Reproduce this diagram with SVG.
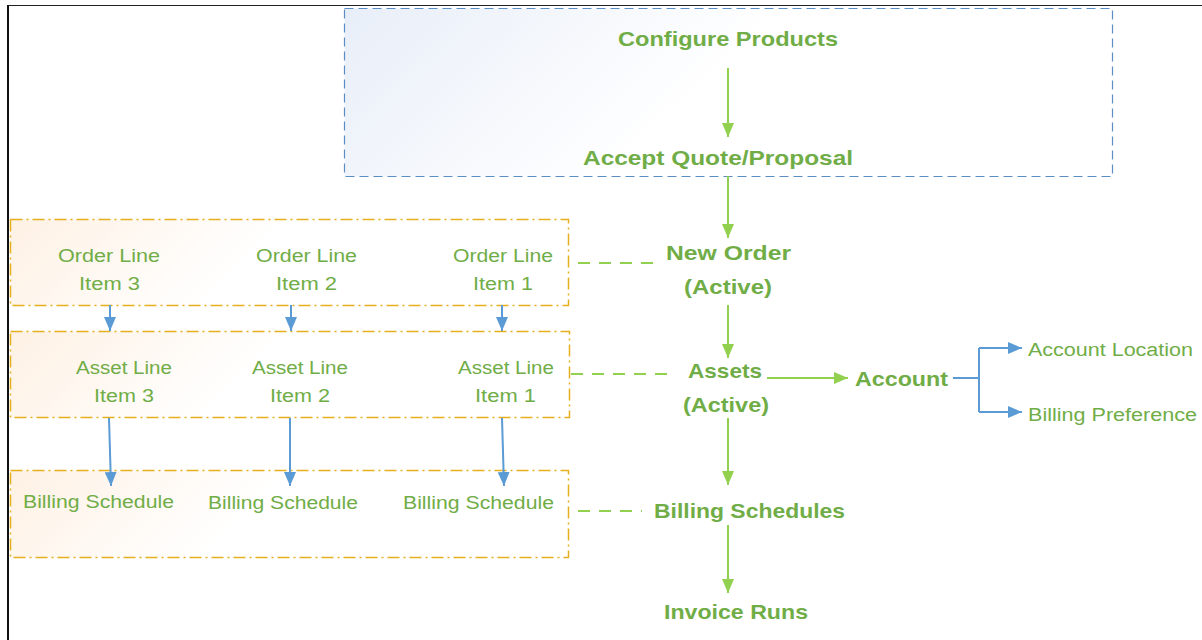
<svg xmlns="http://www.w3.org/2000/svg" width="1202" height="640" viewBox="0 0 1202 640">
<style>
.b{font-family:"Liberation Sans",Arial,sans-serif;font-weight:bold;font-size:21px;fill:#70AD47}
.n{font-family:"Liberation Sans",Arial,sans-serif;font-size:18px;fill:#70AD47}
.g{stroke:#92D050;stroke-width:2;fill:none}
.gd{stroke:#92D050;stroke-width:2;fill:none;stroke-dasharray:12 9}
.bl{stroke:#5B9BD5;stroke-width:2;fill:none}
.ob{stroke:#E6AF1E;stroke-width:1.5;stroke-dasharray:12 4 2 4}
</style>
<defs>
<linearGradient id="gb" gradientUnits="userSpaceOnUse" x1="344" y1="8" x2="560" y2="230">
<stop offset="0" stop-color="#E8EEF8"/><stop offset="1" stop-color="#FFFFFF"/>
</linearGradient>
<linearGradient id="go1" gradientUnits="userSpaceOnUse" x1="10" y1="219" x2="150" y2="360">
<stop offset="0" stop-color="#FEF1E4"/><stop offset="1" stop-color="#FFFFFF"/>
</linearGradient>
<linearGradient id="go2" gradientUnits="userSpaceOnUse" x1="10" y1="331" x2="150" y2="472">
<stop offset="0" stop-color="#FEF1E4"/><stop offset="1" stop-color="#FFFFFF"/>
</linearGradient>
<linearGradient id="go3" gradientUnits="userSpaceOnUse" x1="10" y1="470" x2="150" y2="611">
<stop offset="0" stop-color="#FEF1E4"/><stop offset="1" stop-color="#FFFFFF"/>
</linearGradient>
<marker id="ag" viewBox="0 0 14 12" refX="14" refY="6" markerWidth="14" markerHeight="12" markerUnits="userSpaceOnUse" orient="auto"><path d="M0,0L14,6L0,12z" fill="#92D050"/></marker>
<marker id="ab" viewBox="0 0 14 12" refX="14" refY="6" markerWidth="14" markerHeight="12" markerUnits="userSpaceOnUse" orient="auto"><path d="M0,0L14,6L0,12z" fill="#5B9BD5"/></marker>
</defs>
<rect width="1202" height="640" fill="#FFFFFF"/>
<g id="frame">
<line x1="8" y1="5.5" x2="1202" y2="5.5" stroke="#222" stroke-width="1.2"/>
<line x1="8" y1="5" x2="8" y2="640" stroke="#111" stroke-width="2"/>
</g>
<g id="quote-group">
<rect x="344.5" y="8.5" width="768" height="168" fill="url(#gb)" stroke="#5B8EC6" stroke-width="1.2" stroke-dasharray="9 5"/>
</g>
<g id="order-lines">
<rect x="10.5" y="219.5" width="558" height="86" fill="url(#go1)" class="ob"/>
<text class="n" x="58" y="262" textLength="102" lengthAdjust="spacingAndGlyphs">Order Line</text>
<text class="n" x="79" y="290" textLength="61" lengthAdjust="spacingAndGlyphs">Item 3</text>
<text class="n" x="256" y="262" textLength="101" lengthAdjust="spacingAndGlyphs">Order Line</text>
<text class="n" x="276" y="290" textLength="61" lengthAdjust="spacingAndGlyphs">Item 2</text>
<text class="n" x="453" y="262" textLength="100" lengthAdjust="spacingAndGlyphs">Order Line</text>
<text class="n" x="473" y="290" textLength="60" lengthAdjust="spacingAndGlyphs">Item 1</text>
</g>
<g id="asset-lines">
<rect x="10.5" y="331.5" width="559" height="86" fill="url(#go2)" class="ob"/>
<text class="n" x="76" y="374" textLength="96" lengthAdjust="spacingAndGlyphs">Asset Line</text>
<text class="n" x="94" y="402" textLength="60" lengthAdjust="spacingAndGlyphs">Item 3</text>
<text class="n" x="252" y="374" textLength="96" lengthAdjust="spacingAndGlyphs">Asset Line</text>
<text class="n" x="270" y="402" textLength="60" lengthAdjust="spacingAndGlyphs">Item 2</text>
<text class="n" x="458" y="374" textLength="96" lengthAdjust="spacingAndGlyphs">Asset Line</text>
<text class="n" x="475" y="402" textLength="61" lengthAdjust="spacingAndGlyphs">Item 1</text>
</g>
<g id="billing-lines">
<rect x="10.5" y="470.5" width="558" height="87" fill="url(#go3)" class="ob"/>
<text class="n" x="23" y="508" textLength="151" lengthAdjust="spacingAndGlyphs">Billing Schedule</text>
<text class="n" x="208" y="509" textLength="150" lengthAdjust="spacingAndGlyphs">Billing Schedule</text>
<text class="n" x="403" y="509" textLength="151" lengthAdjust="spacingAndGlyphs">Billing Schedule</text>
</g>
<g id="configure"><text class="b" x="618" y="46" textLength="220" lengthAdjust="spacingAndGlyphs">Configure Products</text></g>
<g id="accept"><text class="b" x="583" y="165" textLength="270" lengthAdjust="spacingAndGlyphs">Accept Quote/Proposal</text></g>
<g id="new-order">
<text class="b" x="666" y="260" textLength="125" lengthAdjust="spacingAndGlyphs">New Order</text>
<text class="b" x="684" y="294" textLength="88" lengthAdjust="spacingAndGlyphs">(Active)</text>
</g>
<g id="assets">
<text class="b" x="688" y="378" textLength="74" lengthAdjust="spacingAndGlyphs">Assets</text>
<text class="b" x="683" y="412" textLength="86" lengthAdjust="spacingAndGlyphs">(Active)</text>
</g>
<g id="account"><text class="b" x="855" y="386" textLength="93" lengthAdjust="spacingAndGlyphs">Account</text></g>
<g id="account-location"><text class="n" x="1028" y="356" textLength="165" lengthAdjust="spacingAndGlyphs">Account Location</text></g>
<g id="billing-preference"><text class="n" x="1028" y="421" textLength="169" lengthAdjust="spacingAndGlyphs">Billing Preference</text></g>
<g id="billing-schedules"><text class="b" x="654" y="518" textLength="191" lengthAdjust="spacingAndGlyphs">Billing Schedules</text></g>
<g id="invoice-runs"><text class="b" x="664" y="619" textLength="144" lengthAdjust="spacingAndGlyphs">Invoice Runs</text></g>
<g id="connectors">
<line class="g" x1="728" y1="68" x2="728" y2="137" marker-end="url(#ag)"/>
<line class="g" x1="728" y1="176" x2="728" y2="238" marker-end="url(#ag)"/>
<line class="g" x1="728" y1="305" x2="728" y2="358" marker-end="url(#ag)"/>
<line class="g" x1="767" y1="378" x2="848" y2="378" marker-end="url(#ag)"/>
<line class="g" x1="728" y1="418" x2="728" y2="485" marker-end="url(#ag)"/>
<line class="g" x1="728" y1="525" x2="728" y2="593" marker-end="url(#ag)"/>
<line class="gd" x1="578" y1="263" x2="656" y2="263"/>
<line class="gd" x1="571" y1="374" x2="673" y2="374"/>
<line class="gd" x1="578" y1="511" x2="642" y2="511"/>
<polyline class="bl" points="953,378 979,378"/>
<polyline class="bl" points="979,348 979,412"/>
<line class="bl" x1="979" y1="348" x2="1022" y2="348" marker-end="url(#ab)"/>
<line class="bl" x1="979" y1="412" x2="1022" y2="412" marker-end="url(#ab)"/>
<line class="bl" x1="110" y1="305" x2="110" y2="331" marker-end="url(#ab)"/>
<line class="bl" x1="291" y1="305" x2="291" y2="331" marker-end="url(#ab)"/>
<line class="bl" x1="502" y1="305" x2="502" y2="331" marker-end="url(#ab)"/>
<line class="bl" x1="109" y1="418" x2="111" y2="486" marker-end="url(#ab)"/>
<line class="bl" x1="290" y1="418" x2="290" y2="486" marker-end="url(#ab)"/>
<line class="bl" x1="502" y1="418" x2="504" y2="486" marker-end="url(#ab)"/>
</g>
</svg>
